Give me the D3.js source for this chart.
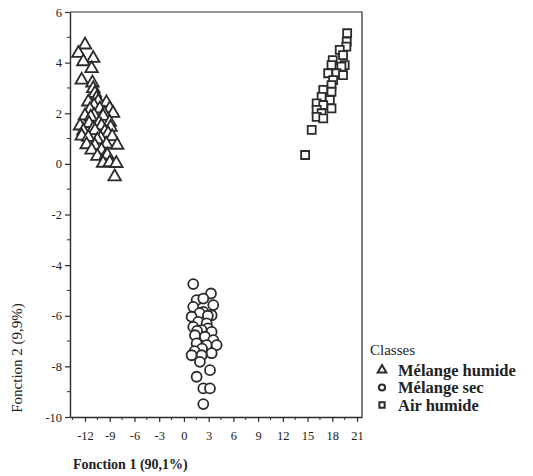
<!DOCTYPE html>
<html>
<head>
<meta charset="utf-8">
<script src="https://cdn.jsdelivr.net/npm/d3@7"></script>
<style>
  body { margin: 0; background: #fff; }
  svg { display: block; font-family: "Liberation Serif", "DejaVu Serif", serif; }
</style>
</head>
<body>
<svg id="chart" width="533" height="476"></svg>
<script>
// discriminant scores, [fonction 1, fonction 2]
const melangeHumide = [
  [-12.0, 4.70], [-12.8, 4.37], [-11.0, 4.17], [-12.2, 4.04], [-11.2, 3.77], [-12.4, 3.31],
  [-11.1, 3.20], [-11.0, 2.98], [-10.8, 2.79], [-10.6, 2.60], [-11.6, 2.45], [-10.4, 2.47],
  [-9.4, 2.42], [-10.9, 2.30], [-9.0, 2.19], [-11.4, 2.15], [-10.2, 2.18], [-8.6, 2.00],
  [-9.7, 2.00], [-12.0, 1.90], [-10.9, 1.92], [-9.8, 1.88], [-11.3, 1.85], [-11.5, 1.60],
  [-10.3, 1.62], [-9.0, 1.65], [-12.6, 1.50], [-10.0, 1.50], [-8.9, 1.45], [-11.0, 1.40],
  [-12.2, 1.30], [-10.8, 1.32], [-9.6, 1.28], [-9.2, 1.20], [-12.4, 1.10], [-11.6, 1.05],
  [-10.1, 1.02], [-8.7, 1.08], [-10.5, 0.95], [-11.8, 0.76], [-10.8, 0.72], [-9.4, 0.78],
  [-8.1, 0.74], [-11.2, 0.55], [-10.0, 0.55], [-10.5, 0.30], [-9.5, 0.32], [-9.3, 0.35],
  [-9.8, 0.03], [-9.0, 0.05], [-8.2, 0.02], [-8.4, -0.51]
]
const melangeSec = [
  [1.13, -4.75], [3.28, -5.12], [1.54, -5.38], [2.35, -5.32], [3.56, -5.58], [1.13, -5.65],
  [2.35, -5.85], [1.90, -5.90], [3.36, -5.98], [2.90, -6.00], [0.93, -6.04], [1.74, -6.24],
  [2.76, -6.30], [1.13, -6.44], [2.90, -6.50], [2.15, -6.57], [1.60, -6.60], [3.36, -6.64],
  [1.34, -6.77], [2.55, -6.83], [3.56, -6.96], [1.54, -7.09], [2.76, -7.16], [3.97, -7.16],
  [2.20, -7.30], [1.30, -7.40], [3.36, -7.48], [0.93, -7.56], [2.15, -7.56], [1.94, -7.82],
  [3.16, -8.15], [1.54, -8.41], [2.35, -8.87], [3.16, -8.87], [2.35, -9.49]
]
const airHumide = [
  [19.80, 5.16], [19.75, 4.83], [19.70, 4.63], [18.90, 4.50], [19.30, 4.30], [18.05, 4.10],
  [19.50, 3.90], [17.90, 3.90], [19.10, 3.84], [17.50, 3.58], [18.50, 3.58], [19.30, 3.51],
  [18.10, 3.31], [17.90, 3.11], [16.90, 2.92], [17.90, 2.85], [16.70, 2.65], [17.70, 2.52],
  [16.10, 2.39], [16.90, 2.32], [17.90, 2.19], [16.10, 2.13], [16.70, 2.00], [16.10, 1.86],
  [16.90, 1.80], [15.50, 1.34], [14.70, 0.35]
]

const classNames = ['Mélange humide', 'Mélange sec', 'Air humide']
const xTicks = [-12, -9, -6, -3, 0, 3, 6, 9, 12, 15, 18, 21]
const yTicks = [-10, -8, -6, -4, -2, 0, 2, 4, 6]
const xTitle = 'Fonction 1 (90,1%)'
const yTitle = 'Fonction 2 (9,9%)'
const legendTitle = 'Classes'

const INK = '#2b2b2b'
const svg = d3.select('#chart')

const mLeft = 70, mRight = 362, mTop = 12, mBottom = 417
const x = d3.scaleLinear().domain([-13.82, 21.6]).range([mLeft, mRight])
const y = d3.scaleLinear().domain([-10, 6]).range([mBottom, mTop])

// frame: top and right sides, the axes do the rest
svg.append('path')
  .attr('d', `M${mLeft},${mTop}H${mRight}V${mBottom}`)
  .attr('fill', 'none').attr('stroke', INK).attr('stroke-width', 1.2)

// minor ticks between the labelled ones
const xMinor = d3.range(-13.5, 21.6, 1.5).filter(v => !xTicks.includes(v))
const yMinor = d3.range(-9, 6, 2)

// plain hyphen for negatives, like the original
const plain = d => String(d)

const xAxis = svg.append('g')
  .attr('transform', `translate(0,${mBottom})`)
  .call(d3.axisBottom(x).tickValues(xTicks).tickFormat(plain)
    .tickSize(5).tickPadding(9).tickSizeOuter(0))
xAxis.append('g').selectAll('line').data(xMinor).join('line')
  .attr('x1', d => x(d)).attr('x2', d => x(d)).attr('y1', 0).attr('y2', 3)
  .attr('stroke', INK)

const yAxis = svg.append('g')
  .attr('transform', `translate(${mLeft},0)`)
  .call(d3.axisLeft(y).tickValues(yTicks).tickFormat(plain)
    .tickSize(5).tickPadding(3).tickSizeOuter(0))
yAxis.append('g').selectAll('line').data(yMinor).join('line')
  .attr('y1', d => y(d)).attr('y2', d => y(d)).attr('x1', 0).attr('x2', -3)
  .attr('stroke', INK)

for (const ax of [xAxis, yAxis]) {
  ax.attr('font-family', '"Liberation Serif", serif').attr('font-size', 12.5)
  ax.select('.domain').attr('stroke', INK).attr('stroke-width', 1.4)
  ax.selectAll('.tick line').attr('stroke', INK).attr('stroke-width', 1.2)
  ax.selectAll('.tick text')
    .attr('fill', '#222')
    .style('font-family', '"Liberation Serif", serif')
}

svg.append('text')
  .attr('x', 73).attr('y', 469)
  .attr('fill', '#222')
  .style('font-size', '14px').style('font-weight', 'bold')
  .text(xTitle)

svg.append('text')
  .attr('transform', `translate(22,358) rotate(-90)`)
  .attr('text-anchor', 'middle')
  .attr('fill', '#222')
  .style('font-size', '15px')
  .text(yTitle)

// markers
const triangle = d3.symbol().type(d3.symbolTriangle).size(68)
const square = d3.symbol().type(d3.symbolSquare).size(64)

const marks = svg.append('g')
  .attr('fill', '#fff').attr('stroke', INK).attr('stroke-width', 1.8)

marks.append('g').selectAll('path').data(melangeHumide).join('path')
  .attr('d', triangle)
  .attr('transform', d => `translate(${x(d[0])},${y(d[1])})`)

marks.append('g').selectAll('circle').data(melangeSec).join('circle')
  .attr('cx', d => x(d[0])).attr('cy', d => y(d[1])).attr('r', 5)

marks.append('g').selectAll('path').data(airHumide).join('path')
  .attr('d', square)
  .attr('transform', d => `translate(${x(d[0])},${y(d[1])})`)

// legend
const legend = svg.append('g').attr('fill', '#222')
legend.append('text').attr('x', 370).attr('y', 355).style('font-size', '15px').text(legendTitle)

const legendSymbols = [
  d3.symbol().type(d3.symbolTriangle).size(32)(),
  d3.symbol().type(d3.symbolCircle).size(30)(),
  d3.symbol().type(d3.symbolSquare).size(28)()
]
const rows = legend.selectAll('g.row').data(classNames).join('g')
  .attr('class', 'row')
  .attr('transform', (d, i) => `translate(0,${370 + i * 17.5})`)
rows.append('path')
  .attr('d', (d, i) => legendSymbols[i])
  .attr('transform', 'translate(382,0)')
  .attr('fill', 'none').attr('stroke', INK).attr('stroke-width', 2)
rows.append('text')
  .attr('x', 398).attr('dy', '0.35em')
  .style('font-size', '16.5px').style('font-weight', 'bold')
  .text(d => d)
</script>
</body>
</html>
